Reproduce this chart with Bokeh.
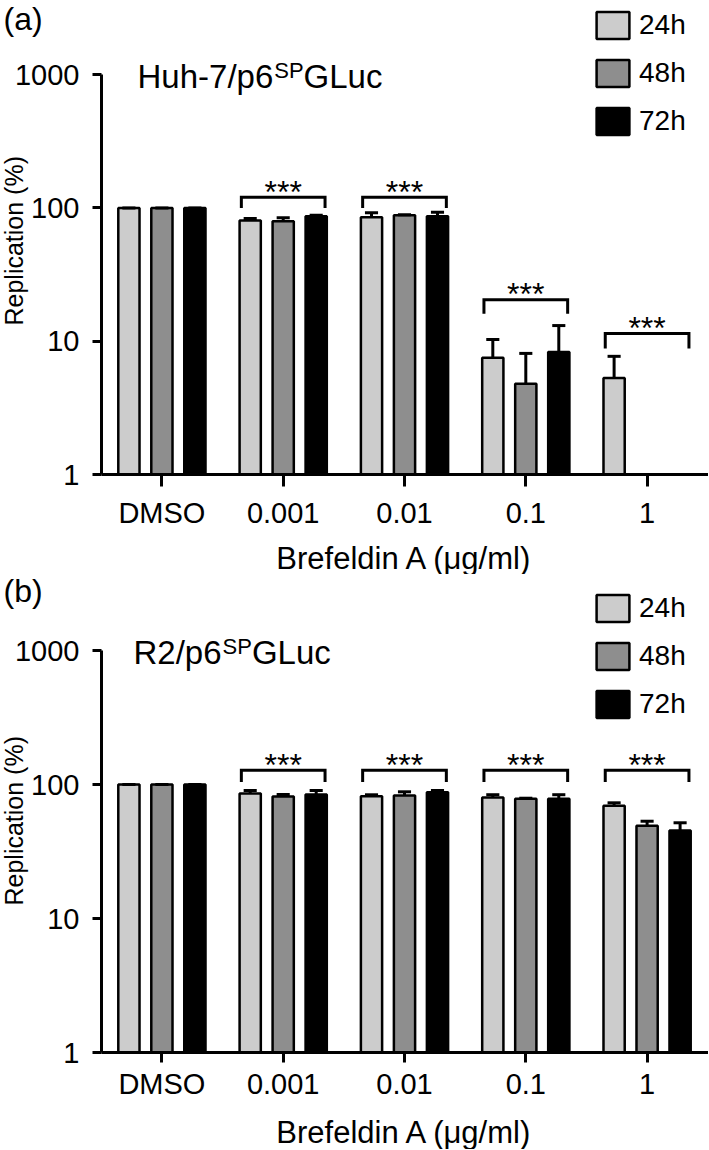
import numpy as np
from bokeh.plotting import figure
from bokeh.models import Range1d, FixedTicker, Label, Legend, LegendItem, ColumnDataSource
from bokeh.layouts import column
from bokeh.embed import file_html
from bokeh.resources import INLINE
from bokeh.core.properties import value

nan = float("nan")

# ---------------- data ----------------
categories = ["DMSO", "0.001", "0.01", "0.1", "1"]
series = ["24h", "48h", "72h"]
y_ticks = [1, 10, 100, 1000]
y_tick_labels = ["1", "10", "100", "1000"]
x_title = "Brefeldin A (\u03bcg/ml)"
y_title = "Replication (%)"
sig_labels = ["", "***", "***", "***", "***"]

# panel (a) Huh-7/p6SPGLuc
a_24h = [100, 80.4, 85.1, 7.5, 5.3]
a_48h = [100, 79.4, 87.9, 4.8, nan]
a_72h = [100, 86.7, 86.7, 8.3, nan]
a_24h_err = [0, 2.8, 6.8, 2.8, 2.4]
a_48h_err = [0, 4.8, 1.0, 3.3, nan]
a_72h_err = [0, 1.2, 6.2, 4.8, nan]
a_bracket_top = [nan, 120, 120, 20.5, 11.4]
a_bracket_foot = [nan, 100, 100, 16.1, 8.8]

# panel (b) R2/p6SPGLuc
b_24h = [100, 85.7, 81.8, 80.1, 69.3]
b_48h = [100, 81.4, 82.6, 78.4, 49.2]
b_72h = [100, 84.2, 87.7, 78.4, 45.4]
b_24h_err = [0, 4.5, 2.0, 3.8, 3.7]
b_48h_err = [0, 2.8, 5.6, 0.6, 4.0]
b_72h_err = [0, 6.0, 2.5, 5.5, 6.4]
b_bracket_top = [nan, 128, 128, 128, 128]
b_bracket_foot = [nan, 104.5, 104.5, 104.5, 104.5]

# ---------------- styling / geometry ----------------
FONT = "Liberation Sans"
COLORS = ["#cccccc", "#8e8e8e", "#000000"]
W = 708
C0 = 161.4          # pixel centre of first category
PPU = 121.3         # pixels per category
YAX = 101           # pixel x of the y axis
BAR_W = 0.175
OFFS = [-0.272, 0.0, 0.272]
CAP = 0.054
BR = 0.345
SHIFT = 0.34        # baseline correction (em)


def xd(px):
    return (px - C0) / PPU


def make_panel(tag, title_main, vals, errs, br_top, br_foot, H, y1, dec,
               legend_top, title_x, title_base, ylab_bottom, tag_base, bottom_cfg):
    yd = lambda yf: 10 ** ((y1 - yf) / dec)
    p = figure(width=W, height=H, y_axis_type="log", title=None,
               x_range=Range1d(xd(0), xd(W)), y_range=Range1d(yd(H), yd(0)),
               output_backend="svg", toolbar_location=None,
               min_border_left=0, min_border_right=0, min_border_top=0,
               min_border_bottom=0)
    p.outline_line_color = None
    p.grid.visible = False
    p.background_fill_color = "white"
    p.border_fill_color = "white"

    idx = np.arange(len(categories))
    renderers = []
    for k, s in enumerate(series):
        xs = idx + OFFS[k]
        v = np.array(vals[k], dtype=float)
        e = np.array(errs[k], dtype=float)
        src = ColumnDataSource(dict(x=xs, top=v, bottom=np.ones_like(v), hi=v + e,
                                    cl=xs - CAP, cr=xs + CAP))
        r = p.vbar(x="x", top="top", bottom="bottom", width=BAR_W, source=src,
                   fill_color=COLORS[k], line_color="black", line_width=2.5)
        renderers.append(r)
        p.segment(x0="x", y0="top", x1="x", y1="hi", source=src,
                  line_color="black", line_width=3)
        p.segment(x0="cl", y0="hi", x1="cr", y1="hi", source=src,
                  line_color="black", line_width=3)

    # significance brackets
    bxs, bys = [], []
    for i in range(len(categories)):
        if np.isnan(br_top[i]):
            continue
        c = idx[i]
        bxs.append([c - BR, c - BR, c + BR, c + BR])
        bys.append([br_foot[i], br_top[i], br_top[i], br_foot[i]])
    p.multi_line(xs=bxs, ys=bys, line_color="black", line_width=3,
                 line_join="miter")
    ast_src = ColumnDataSource(dict(
        x=idx.astype(float),
        y=np.array(br_top, dtype=float) * 10 ** (5.2 / dec),
        t=sig_labels))
    p.text(x="x", y="y", text="t", source=ast_src, text_align="center",
           text_baseline="alphabetic", text_font=value(FONT),
           text_font_size="32px", text_color="black")

    # axes (drawn at fixed data locations inside the full-size frame)
    ya = p.yaxis[0]
    ya.fixed_location = xd(YAX)
    ya.ticker = FixedTicker(ticks=y_ticks)
    ya.major_label_overrides = {t: l for t, l in zip(y_ticks, y_tick_labels)}
    ya.bounds = (1, 1000)
    xa = p.xaxis[0]
    xa.fixed_location = 1
    xa.bounds = (xd(YAX), xd(W))
    xa.ticker = FixedTicker(ticks=list(range(len(categories))))
    xa.major_label_overrides = {i: c for i, c in enumerate(categories)}
    xa.axis_label = x_title
    for ax in (xa, ya):
        ax.axis_line_width = 3
        ax.axis_line_color = "black"
        ax.major_tick_line_width = 3
        ax.major_tick_line_color = "black"
        ax.major_tick_in = 0
        ax.minor_tick_line_color = None
        ax.major_label_text_font = FONT
        ax.major_label_text_font_size = "29px"
        ax.major_label_text_color = "black"
        ax.axis_label_text_font = FONT
        ax.axis_label_text_font_size = "31px"
        ax.axis_label_text_font_style = "normal"
        ax.axis_label_text_color = "black"
    ya.major_tick_out = 9
    ya.major_label_standoff = 13
    xa.major_tick_out = bottom_cfg[0]
    xa.major_label_standoff = bottom_cfg[1]
    xa.axis_label_standoff = bottom_cfg[2]

    # legend
    lg_h = 3 * 34 + 2 * 14
    legend = Legend(items=[LegendItem(label=s, renderers=[r]) for s, r in zip(series, renderers)],
                    location=(592, int(round(H - legend_top - lg_h))),
                    glyph_width=41, glyph_height=34, spacing=14, label_standoff=6,
                    padding=0, margin=0, border_line_color=None,
                    background_fill_alpha=0, label_text_font=FONT,
                    label_text_font_size="28px", label_text_color="black",
                    label_height=34)
    p.add_layout(legend)

    # panel tag, y title, panel title (with superscript)
    tfs = 32
    p.add_layout(Label(x=xd(3), y=yd(tag_base - SHIFT * tfs), text=tag, text_font=FONT,
                       text_font_size=f"{tfs}px", text_align="left",
                       text_baseline="alphabetic", text_color="black"))
    yfs = 25
    half = 6.779 * yfs / 2
    p.add_layout(Label(x=xd(13), y=yd(ylab_bottom - half), text=y_title,
                       angle=np.pi / 2, text_font=FONT, text_font_size=f"{yfs}px",
                       text_align="center", text_baseline="alphabetic", text_color="black"))
    fs, ss = 33, 22
    w1 = sum({"H": .722, "u": .556, "h": .556, "-": .333, "7": .556, "/": .278,
              "p": .556, "6": .556, "R": .722, "2": .556}[ch] for ch in title_main) * fs
    p.add_layout(Label(x=xd(title_x), y=yd(title_base - SHIFT * fs), text=title_main,
                       text_font=FONT, text_font_size=f"{fs}px", text_align="left",
                       text_baseline="alphabetic", text_color="black"))
    p.add_layout(Label(x=xd(title_x + w1 + 1), y=yd(title_base - 10 - SHIFT * ss), text="SP",
                       text_font=FONT, text_font_size=f"{ss}px", text_align="left",
                       text_baseline="alphabetic", text_color="black"))
    p.add_layout(Label(x=xd(title_x + w1 + 1 + 1.334 * ss), y=yd(title_base - SHIFT * fs),
                       text="GLuc", text_font=FONT, text_font_size=f"{fs}px",
                       text_align="left", text_baseline="alphabetic", text_color="black"))
    return p


pa = make_panel("(a)", "Huh-7/p6", [a_24h, a_48h, a_72h], [a_24h_err, a_48h_err, a_72h_err],
                a_bracket_top, a_bracket_foot, H=574, y1=474, dec=133.3,
                legend_top=7.85, title_x=137, title_base=87, ylab_bottom=325, tag_base=29.3,
                bottom_cfg=(12, 10, 9))
pb = make_panel("(b)", "R2/p6", [b_24h, b_48h, b_72h], [b_24h_err, b_48h_err, b_72h_err],
                b_bracket_top, b_bracket_foot, H=575, y1=478, dec=134.0,
                legend_top=16.85, title_x=133, title_base=89, ylab_bottom=331, tag_base=27.3,
                bottom_cfg=(10, 5, 12))

layout = column(pa, pb, spacing=0)
open("out.html", "w").write(file_html(layout, INLINE))
